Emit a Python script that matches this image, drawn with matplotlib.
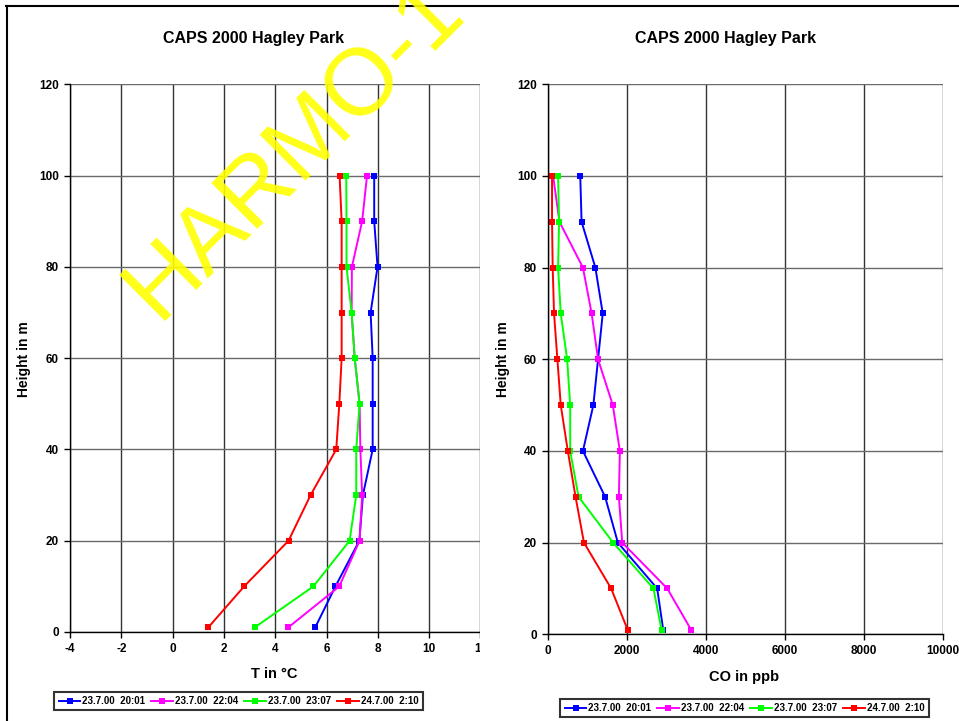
import matplotlib
matplotlib.use('Agg')
from matplotlib import pyplot as plt
from matplotlib.lines import Line2D
from matplotlib.patches import Rectangle

plt.rcParams['font.family'] = ['Liberation Sans', 'DejaVu Sans']
plt.rcParams['font.weight'] = 'bold'
plt.rcParams['axes.unicode_minus'] = False

# measuring heights (m)
heights = [1, 10, 20, 30, 40, 50, 60, 70, 80, 90, 100]

# temperature profiles (deg C)
t_2001 = [5.56, 6.35, 7.28, 7.42, 7.80, 7.80, 7.80, 7.72, 7.99, 7.86, 7.86]
t_2204 = [4.51, 6.50, 7.29, 7.39, 7.32, 7.29, 7.10, 6.98, 6.99, 7.39, 7.58]
t_2307 = [3.20, 5.49, 6.90, 7.16, 7.16, 7.29, 7.10, 6.98, 6.78, 6.78, 6.77]
t_0210 = [1.39, 2.79, 4.52, 5.38, 6.38, 6.50, 6.59, 6.59, 6.59, 6.59, 6.51]

# CO profiles (ppb)
co_2001 = [2919, 2766, 1770, 1447, 885, 1149, 1268, 1387, 1200, 851, 817]
co_2204 = [3625, 3021, 1881, 1796, 1821, 1642, 1268, 1106, 885, 290, 130]
co_2307 = [2876, 2672, 1651, 774, 562, 562, 485, 323, 255, 281, 255]
co_0210 = [2017, 1600, 911, 698, 502, 323, 238, 153, 119, 102, 102]

labels = ['23.7.00  20:01', '23.7.00  22:04', '23.7.00  23:07', '24.7.00  2:10']
colors = ['#0000FF', '#FF00FF', '#00FF00', '#FF0000']

title = 'CAPS 2000 Hagley Park'


def style_axes(ax):
    for side in ['top', 'right']:
        ax.spines[side].set_visible(False)
    for side in ['left', 'bottom']:
        ax.spines[side].set_color('black')
        ax.spines[side].set_linewidth(1.0)
    ax.grid(axis='x', color='#333333', linewidth=1.0)
    ax.grid(axis='y', color='#6a6a6a', linewidth=1.0)
    ax.set_axisbelow(True)
    ax.tick_params(axis='both', direction='out', length=4, width=1,
                   labelsize=8.5, pad=4)
    for lab in ax.get_xticklabels() + ax.get_yticklabels():
        lab.set_fontweight('bold')
    ax.set_ylim(0, 120)
    ax.set_yticks(range(0, 121, 20))


def draw_profiles(ax, series):
    lines = []
    for vals, c, lab in zip(series, colors, labels):
        ln, = ax.plot(vals, heights, color=c, linewidth=1.4, marker='s',
                      markersize=5, markeredgewidth=0, label=lab)
        lines.append(ln)
    return lines


fig = plt.figure(figsize=(9.59, 7.21), dpi=100)

# left chart: temperature
ax1 = fig.add_axes([70 / 959, 89 / 721, 410.4 / 959, 547.7 / 721], zorder=0)
lines = draw_profiles(ax1, [t_2001, t_2204, t_2307, t_0210])
ax1.set_xlim(-4, 12)
ax1.set_xticks(range(-4, 13, 2))
style_axes(ax1)

# right chart panel covers the edge of the left one
fig.patches.append(Rectangle((480 / 959, 0), 1 - 480 / 959, 714 / 721,
                             transform=fig.transFigure, facecolor='white',
                             edgecolor='none', zorder=1))

# right chart: CO
ax2 = fig.add_axes([548 / 959, 86.7 / 721, 394.7 / 959, 550 / 721], zorder=2)
draw_profiles(ax2, [co_2001, co_2204, co_2307, co_0210])
ax2.set_xlim(0, 10000)
ax2.set_xticks(range(0, 10001, 2000))
style_axes(ax2)

# titles and axis labels
fig.text(254 / 959, 1 - 39 / 721, title, ha='center', va='center',
         fontsize=11.5, fontweight='bold', zorder=3)
fig.text(725.5 / 959, 1 - 39 / 721, title, ha='center', va='center',
         fontsize=11.5, fontweight='bold', zorder=3)
fig.text(274.5 / 959, 1 - 674 / 721, 'T in °C', ha='center', va='center',
         fontsize=10.5, fontweight='bold', zorder=3)
fig.text(744 / 959, 1 - 677 / 721, 'CO in ppb', ha='center', va='center',
         fontsize=10.5, fontweight='bold', zorder=3)
fig.text(24 / 959, 1 - 359 / 721, 'Height in m', rotation=90, ha='center',
         va='center', fontsize=10, fontweight='bold', zorder=3)
fig.text(503 / 959, 1 - 359 / 721, 'Height in m', rotation=90, ha='center',
         va='center', fontsize=10, fontweight='bold', zorder=3)

# legends below each chart
for cx, cy in [(238.5, 701), (744.5, 708)]:
    leg = fig.legend(handles=lines, loc='center', ncol=4,
                     bbox_to_anchor=(cx / 959, 1 - cy / 721),
                     prop={'size': 7, 'weight': 'bold'}, frameon=True,
                     fancybox=False, edgecolor='black', handlelength=2.25,
                     handletextpad=0.2, columnspacing=0.6, borderpad=0.45,
                     markerscale=0.9)
    leg.get_frame().set_linewidth(1.5)
    leg.set_zorder(3)

# outer frame
fig.add_artist(Line2D([6 / 959, 1], [715 / 721, 715 / 721], color='black',
                      linewidth=1.5, transform=fig.transFigure, zorder=5))
fig.add_artist(Line2D([7 / 959, 7 / 959], [0, 715 / 721], color='black',
                      linewidth=1.5, transform=fig.transFigure, zorder=5))

# watermark
fig.text(158 / 959, 1 - 321 / 721, 'HARMO-1', rotation=45,
         rotation_mode='anchor', ha='left', va='baseline', fontsize=68,
         fontweight='normal', color='#FFFF00', alpha=0.9, zorder=10)

plt.savefig('out.png', dpi=100)
